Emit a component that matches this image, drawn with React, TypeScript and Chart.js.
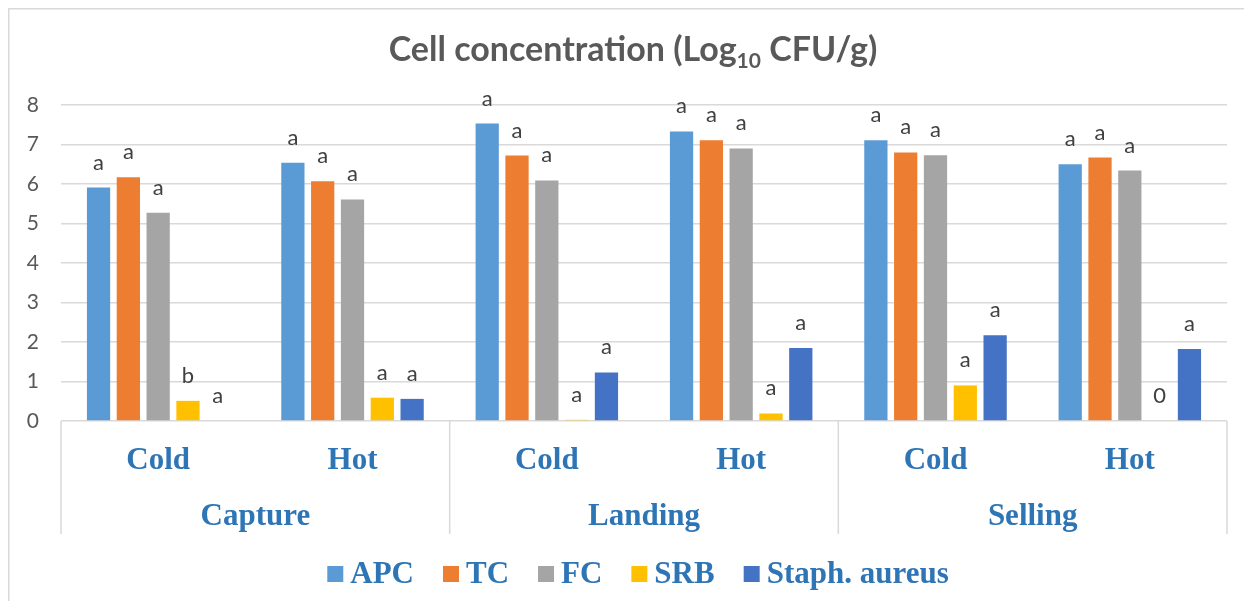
import React, { useEffect, useRef } from "react";
import { Chart, registerables } from "chart.js";

Chart.register(...registerables);

const categories = ["Cold", "Hot", "Cold", "Hot", "Cold", "Hot"];
const groups = ["Capture", "Landing", "Selling"];
const seriesNames = ["APC", "TC", "FC", "SRB", "Staph. aureus"];
const seriesColors = ["#5B9BD5", "#ED7D31", "#A5A5A5", "#FFC000", "#4472C4"];

const apc = [5.91, 6.54, 7.53, 7.33, 7.11, 6.5];
const tc = [6.17, 6.07, 6.72, 7.11, 6.8, 6.67];
const fc = [5.27, 5.61, 6.09, 6.9, 6.73, 6.34];
const srb = [0.51, 0.59, 0.03, 0.19, 0.9, 0];
const staph = [0, 0.56, 1.23, 1.85, 2.17, 1.82];

const apcLetters = ["a", "a", "a", "a", "a", "a"];
const tcLetters = ["a", "a", "a", "a", "a", "a"];
const fcLetters = ["a", "a", "a", "a", "a", "a"];
const srbLetters = ["b", "a", "a", "a", "a", "0"];
const staphLetters = ["a", "a", "a", "a", "a", "a"];

const yTicks = [0, 1, 2, 3, 4, 5, 6, 7, 8];

const seriesValues = [apc, tc, fc, srb, staph];
const seriesLetters = [apcLetters, tcLetters, fcLetters, srbLetters, staphLetters];

const AXIS_BLUE = "#2E75B6";
const GRID = "#D9D9D9";

const customPlugin = {
  id: "customDraw",
  afterDatasetsDraw(chart: any) {
    const ctx = chart.ctx;
    ctx.save();
    ctx.font = "22px Lato";
    ctx.fillStyle = "#404040";
    ctx.textAlign = "center";
    ctx.textBaseline = "alphabetic";
    chart.data.datasets.forEach((ds: any, di: number) => {
      const meta = chart.getDatasetMeta(di);
      meta.data.forEach((el: any, i: number) => {
        const txt = seriesLetters[di][i];
        ctx.fillText(txt, el.x, el.y - 18);
      });
    });
    ctx.restore();
  },
  afterDraw(chart: any) {
    const ctx = chart.ctx;
    const xs = chart.scales.x;
    const area = chart.chartArea;
    const W = chart.width;
    ctx.save();

    // outer border (left and top)
    ctx.strokeStyle = GRID;
    ctx.lineWidth = 1.5;
    ctx.beginPath();
    ctx.moveTo(0.75, chart.height);
    ctx.lineTo(0.75, 0.75);
    ctx.lineTo(W, 0.75);
    ctx.stroke();

    // title
    const mainFont = "bold 34px Lato";
    const subFont = "bold 21px Lato";
    const parts: [string, string, number][] = [
      ["Cell concentration (Log", mainFont, 0],
      ["10", subFont, 7],
      [" CFU/g)", mainFont, 0],
    ];
    let total = 0;
    parts.forEach(([t, f]) => {
      ctx.font = f;
      total += ctx.measureText(t).width;
    });
    let tx = 625 - total / 2;
    ctx.fillStyle = "#595959";
    ctx.textAlign = "left";
    ctx.textBaseline = "alphabetic";
    parts.forEach(([t, f, dy]) => {
      ctx.font = f;
      ctx.fillText(t, tx, 53 + dy);
      tx += ctx.measureText(t).width;
    });

    // hierarchical x-axis
    const catW = (area.right - area.left) / categories.length;
    ctx.strokeStyle = GRID;
    ctx.lineWidth = 1.5;
    for (let k = 0; k <= groups.length; k++) {
      const x = area.left + k * 2 * catW;
      ctx.beginPath();
      ctx.moveTo(x, area.bottom);
      ctx.lineTo(x, 526);
      ctx.stroke();
    }
    ctx.fillStyle = AXIS_BLUE;
    ctx.textAlign = "center";
    ctx.font = "bold 31px 'Liberation Serif'";
    categories.forEach((c, i) => {
      ctx.fillText(c, xs.getPixelForValue(i), 461);
    });
    groups.forEach((g, k) => {
      const x = (xs.getPixelForValue(2 * k) + xs.getPixelForValue(2 * k + 1)) / 2;
      ctx.fillText(g, x, 517);
    });

    // legend
    const box = 16;
    const gapText = 7;
    const gapItem = 29;
    ctx.font = "bold 31px 'Liberation Serif'";
    const widths = seriesNames.map((n) => ctx.measureText(n).width);
    let lw = 0;
    widths.forEach((w, i) => {
      lw += box + gapText + w + (i < widths.length - 1 ? gapItem : 0);
    });
    let lx = 630 - lw / 2;
    ctx.textAlign = "left";
    seriesNames.forEach((n, i) => {
      ctx.fillStyle = seriesColors[i];
      ctx.fillRect(lx, 558, box, box);
      lx += box + gapText;
      ctx.fillStyle = AXIS_BLUE;
      ctx.fillText(n, lx, 575);
      lx += widths[i] + gapItem;
    });

    ctx.restore();
  },
};

export default function App() {
  const ref = useRef<HTMLCanvasElement>(null);
  useEffect(() => {
    if (!ref.current) return;
    const chart = new Chart(ref.current, {
      type: "bar",
      data: {
        labels: categories,
        datasets: seriesNames.map((name, i) => ({
          label: name,
          data: seriesValues[i],
          backgroundColor: seriesColors[i],
          borderWidth: 0,
          categoryPercentage: 0.767,
          barPercentage: 0.78,
        })),
      },
      options: {
        responsive: false,
        animation: false,
        layout: { padding: { left: 0, right: 17, top: 97, bottom: 0 } },
        plugins: {
          legend: { display: false },
          title: { display: false },
          tooltip: { enabled: false },
        },
        scales: {
          x: {
            grid: { display: false },
            border: { display: false },
            ticks: { display: false },
            afterFit(scale: any) {
              scale.height = 180;
            },
          },
          y: {
            min: 0,
            max: 8,
            afterBuildTicks(scale: any) {
              scale.ticks = yTicks.map((v) => ({ value: v }));
            },
            grid: { color: GRID, lineWidth: 1.5, drawTicks: false },
            border: { display: false },
            ticks: {
              padding: 22,
              color: "#595959",
              font: { family: "Lato", size: 21 },
            },
            afterFit(scale: any) {
              scale.width = 53;
            },
          },
        },
      },
      plugins: [customPlugin],
    });
    return () => chart.destroy();
  }, []);
  return (
    <div style={{ width: 1236, height: 593 }}>
      <canvas ref={ref} width={1236} height={593} style={{ display: "block" }} />
    </div>
  );
}
